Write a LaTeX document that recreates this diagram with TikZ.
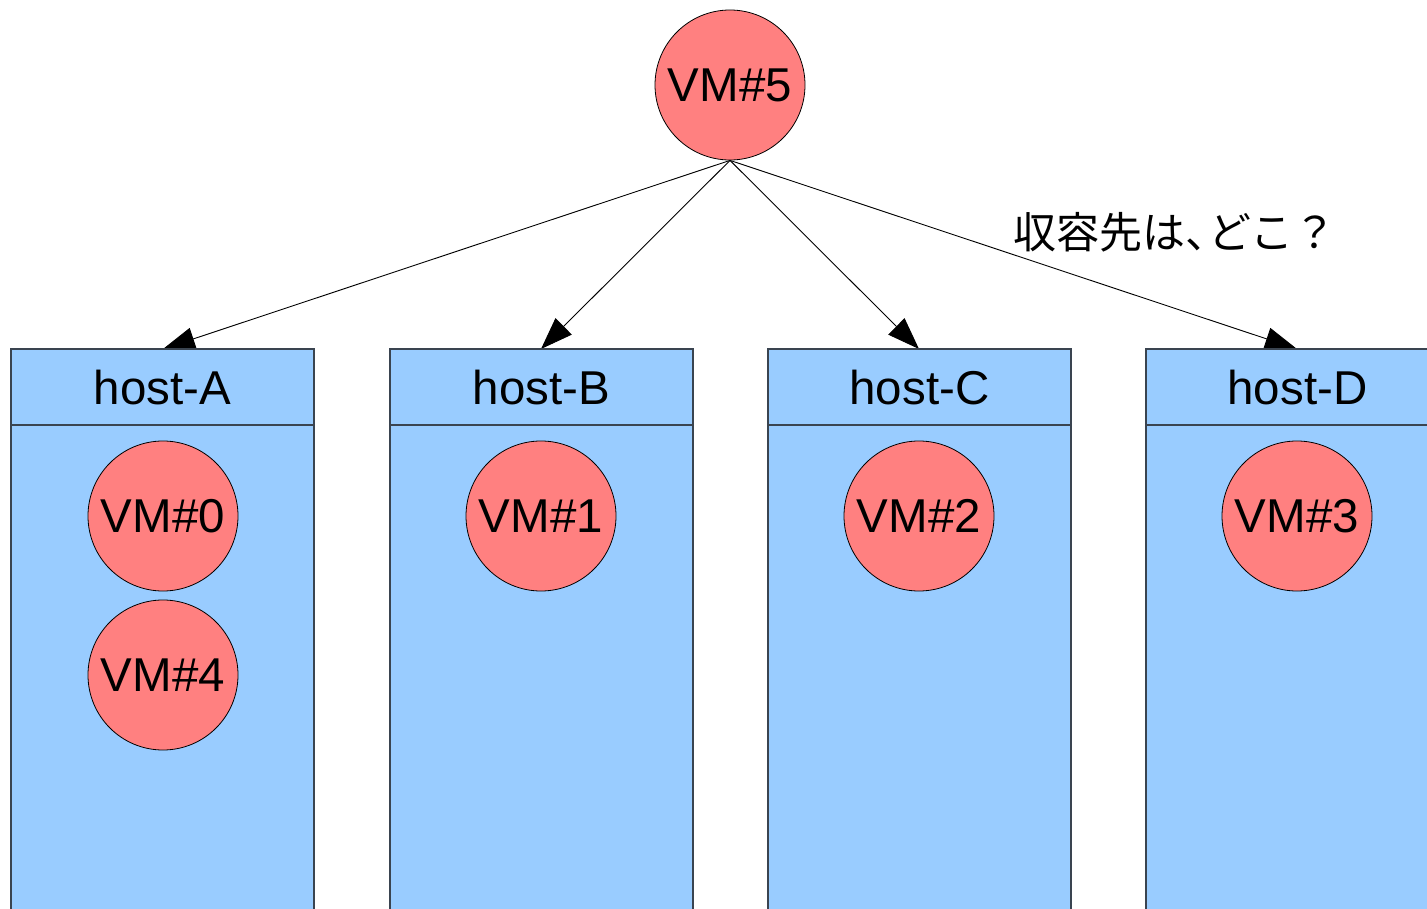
\documentclass[tikz,border=0pt]{standalone}
\usepackage{fontspec}
\setmainfont{Liberation Sans}
\newfontfamily\cjk{Noto Sans CJK JP}
\usetikzlibrary{arrows.meta}
\definecolor{vmred}{HTML}{FF8080}
\definecolor{hostblue}{HTML}{99CCFF}
\definecolor{hostline}{HTML}{3A4450}
\begin{document}
\begin{tikzpicture}[x=1pt,y=-1pt,
  vm/.style={circle,draw=black,line width=0.8pt,fill=vmred,minimum size=150pt,inner sep=0pt,
    font=\fontsize{47.5}{55}\selectfont},
  hostbox/.style={draw=hostline,line width=1.3pt,fill=hostblue},
  hostlabel/.style={font=\fontsize{47.5}{55}\selectfont,inner sep=0pt},
  conn/.style={line width=0.9pt,-{Triangle[length=32pt,width=23pt]}}]
\useasboundingbox (0,0) rectangle (1427,909);
\clip (0,0) rectangle (1427,909);
% VM#5
\node[vm] (vm5) at (730,85) {VM\#5};
% arrow end points
\coordinate (tA) at (163,349);
\coordinate (tB) at (541,349);
\coordinate (tC) at (919,349);
\coordinate (tD) at (1297,349);
\draw[conn] (vm5.south) -- (tA);
\draw[conn] (vm5.south) -- (tB);
\draw[conn] (vm5.south) -- (tC);
\draw[conn] (vm5.south) -- (tD);
% hosts
\foreach \x/\n in {11/A,390/B,768/C,1146/D}{
  \path[hostbox] (\x,349) rectangle ++(303,600);
  \draw[hostline,line width=1.3pt] (\x,425) -- ++(303,0);
  \node[hostlabel] (host\n) at (\x+151.5,388) {host-\n};
}
% VMs
\node[vm] (vm0) at (163,516) {VM\#0};
\node[vm] (vm4) at (163,675) {VM\#4};
\node[vm] (vm1) at (541,516) {VM\#1};
\node[vm] (vm2) at (919,516) {VM\#2};
\node[vm] (vm3) at (1297,516) {VM\#3};
% question
\node[anchor=west,inner sep=0pt,font=\cjk\fontsize{43}{50}\selectfont] (q) at (1013,232) {収容先は\makebox[0.55em][l]{、}どこ？};
\end{tikzpicture}
\end{document}
